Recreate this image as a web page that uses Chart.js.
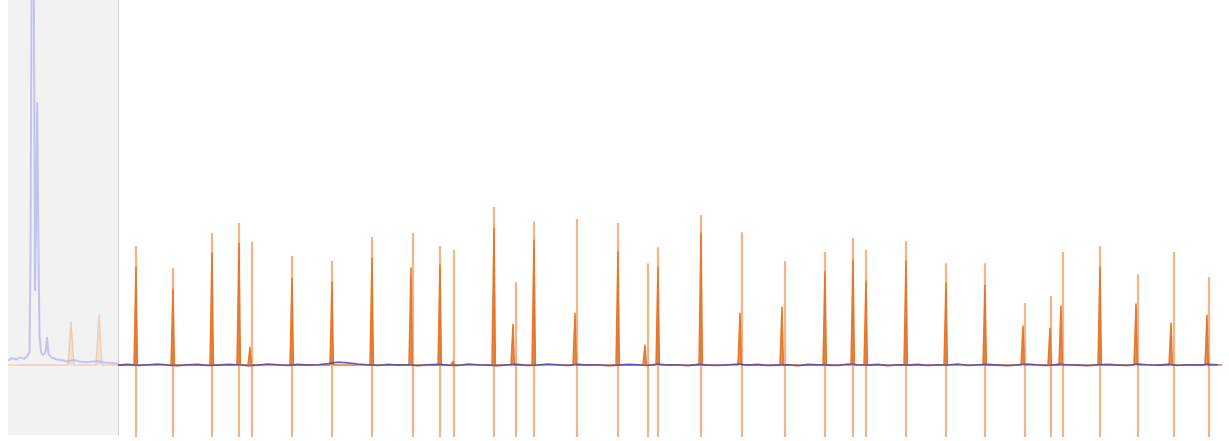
<!DOCTYPE html>
<html>
<head>
<meta charset="utf-8">
<script src="https://cdn.jsdelivr.net/npm/chart.js@4/dist/chart.umd.min.js"></script>
<style>
  html, body { margin: 0; padding: 0; background: #ffffff; }
  #wrap { width: 1229px; height: 441px; position: relative; }
</style>
</head>
<body>
<div id="wrap"><canvas id="trace"></canvas></div>
<script>
// Time axis (s) and amplitude axis (a.u.) ranges
const TIME_MIN = 0, TIME_MAX = 122.9;
const AMP_MIN = -19.7, AMP_MAX = 100;

// Preview window shown shaded at the start of the record
const previewStart = 0.8, previewEnd = 11.8;
const recordEnd = 122.2;

// Event markers: time and marker height
const markerTime = [13.6,17.3,21.2,23.9,25.2,29.2,33.2,37.2,41.3,44.0,45.4,49.4,51.6,53.4,57.7,61.8,64.8,65.8,70.1,74.2,78.5,82.5,85.3,86.6,90.6,94.6,98.5,102.5,105.1,106.3,110.0,113.8,117.4,120.9];
const markerPeak = [32.6,26.6,36.2,38.9,33.7,29.9,28.5,35.1,36.2,32.6,31.5,43.3,22.7,39.4,40.0,38.9,27.9,32.3,41.1,36.4,28.5,31.0,34.8,31.5,34.0,27.9,27.9,17.0,18.9,31.0,32.6,24.9,31.0,24.1];

// Detected spikes on the orange channel
const spikeTime = [13.6,17.3,21.2,23.9,25.0,29.2,33.2,37.2,41.1,44.0,45.3,49.4,51.3,53.4,57.5,61.8,64.5,65.8,70.1,74.0,78.2,82.5,85.3,86.6,90.6,94.6,98.5,102.3,105.0,106.1,110.0,113.6,117.1,120.7];
const spikeTop  = [26.8,20.8,30.7,33.4,4.9,23.8,22.7,29.3,26.6,27.4,1.0,37.5,11.2,34.2,14.2,31.0,5.5,26.8,36.2,14.2,15.9,25.5,28.8,23.0,28.5,22.5,21.9,10.7,10.1,16.2,26.8,16.7,11.5,13.7];

// Blue channel inside the preview window
const previewBlueTime = [0.8,1.2,1.6,2.0,2.4,2.7,2.95,3.05,3.2,3.35,3.5,3.6,3.72,3.85,3.95,4.1,4.3,4.55,4.7,4.85,5.1,5.6,6.2,6.8,7.4,8.0,8.8,9.6,10.4,11.2,11.8];
const previewBlueAmp  = [1.2,1.9,1.5,2.1,1.7,2.4,3.5,30,130,130,20.5,40,71.8,30,8,3.5,2.8,3.5,7.4,3.0,2.2,1.6,1.3,1.0,1.4,0.9,0.8,1.1,0.7,0.6,0.4];

// Orange channel inside the preview window
const previewOrangeTime = [0.8,6.8,7.1,7.4,9.6,9.9,10.2,11.8];
const previewOrangeAmp  = [0,0,11.8,0,0,13.7,0,0];

// Blue channel after the preview window, one sample per second
const blueStart = 11.8, blueStep = 1.0;
const blueAmp = [
  0.0,0.2,-0.1,0.1,0.3,0.0,-0.2,0.1,0.2,-0.1,
  0.0,0.2,0.1,-0.2,0.0,0.3,0.1,-0.1,0.2,0.0,
  0.1,0.4,0.8,0.6,0.3,0.1,-0.1,0.2,0.0,0.1,
  -0.2,0.1,0.2,0.0,-0.1,0.3,0.1,0.0,-0.2,0.1,
  0.2,-0.1,0.0,0.3,0.1,-0.1,0.2,0.0,0.1,-0.2,
  0.0,0.2,0.1,-0.1,0.3,0.0,0.1,-0.2,0.2,0.0,
  -0.1,0.1,0.3,0.0,0.2,-0.1,0.0,0.1,-0.2,0.2,
  0.1,0.0,-0.1,0.3,0.1,0.0,0.2,-0.2,0.1,0.0,
  0.2,-0.1,0.1,0.0,0.3,-0.1,0.1,0.2,0.0,-0.2,
  0.1,0.3,0.0,-0.1,0.2,0.1,0.0,-0.2,0.1,0.2,
  0.0,-0.1,0.3,0.1,0.0,0.2,-0.1,0.1,0.0,0.2,0.1
];

// ---- build plotted series ----
const markerPts = [];
markerTime.forEach((t, i) => {
  markerPts.push({ x: t, y: AMP_MIN }, { x: t, y: markerPeak[i] }, { x: t, y: null });
});

const spikePts = [{ x: previewEnd, y: 0 }];
spikeTime.forEach((t, i) => {
  spikePts.push({ x: t - 0.2, y: 0 }, { x: t, y: spikeTop[i] }, { x: t + 0.14, y: 0 });
});
spikePts.push({ x: recordEnd, y: 0 });

const bluePts = blueAmp.map((v, i) => ({ x: blueStart + i * blueStep, y: v }));
const previewBluePts = previewBlueTime.map((t, i) => ({ x: t, y: previewBlueAmp[i] }));
const previewOrangePts = previewOrangeTime.map((t, i) => ({ x: t, y: previewOrangeAmp[i] }));

// Shades the preview window behind the traces
const previewShade = {
  id: 'previewShade',
  beforeDatasetsDraw(chart) {
    const { ctx, chartArea, scales } = chart;
    const x1 = scales.x.getPixelForValue(previewStart);
    const x2 = scales.x.getPixelForValue(previewEnd);
    ctx.save();
    ctx.fillStyle = '#f2f2f2';
    ctx.fillRect(x1, chartArea.top, x2 - x1, chartArea.bottom - chartArea.top - 2);
    ctx.strokeStyle = '#d2d2d2';
    ctx.lineWidth = 1;
    ctx.beginPath();
    ctx.moveTo(Math.round(x2) + 0.5, chartArea.top);
    ctx.lineTo(Math.round(x2) + 0.5, chartArea.bottom - 2);
    ctx.stroke();
    ctx.restore();
  }
};

new Chart(document.getElementById('trace'), {
  type: 'line',
  data: {
    datasets: [
      {
        label: 'blue',
        data: bluePts,
        borderColor: 'rgba(80,70,180,0.85)',
        borderWidth: 1.6,
        tension: 0,
        order: 0
      },
      {
        label: 'spikes',
        data: spikePts,
        borderColor: '#e4782c',
        backgroundColor: 'rgba(228,120,44,0.85)',
        borderWidth: 1.5,
        fill: 'origin',
        order: 1
      },
      {
        label: 'markers',
        data: markerPts,
        borderColor: 'rgba(236,130,55,0.6)',
        borderWidth: 2.2,
        spanGaps: false,
        order: 2
      },
      {
        label: 'preview blue',
        data: previewBluePts,
        borderColor: 'rgba(175,175,240,0.7)',
        borderWidth: 2,
        order: 3
      },
      {
        label: 'preview orange',
        data: previewOrangePts,
        borderColor: 'rgba(240,195,160,0.75)',
        backgroundColor: 'rgba(240,195,160,0.35)',
        fill: 'origin',
        borderWidth: 1.5,
        order: 4
      }
    ]
  },
  options: {
    responsive: true,
    maintainAspectRatio: false,
    animation: false,
    layout: { padding: { top: 0, left: 0, right: 0, bottom: 4 } },
    elements: { point: { radius: 0, hoverRadius: 0 }, line: { borderJoinStyle: 'round' } },
    plugins: { legend: { display: false }, tooltip: { enabled: false } },
    events: [],
    scales: {
      x: { type: 'linear', min: TIME_MIN, max: TIME_MAX, display: false },
      y: { type: 'linear', min: AMP_MIN, max: AMP_MAX, display: false }
    }
  },
  plugins: [previewShade]
});
</script>
</body>
</html>
